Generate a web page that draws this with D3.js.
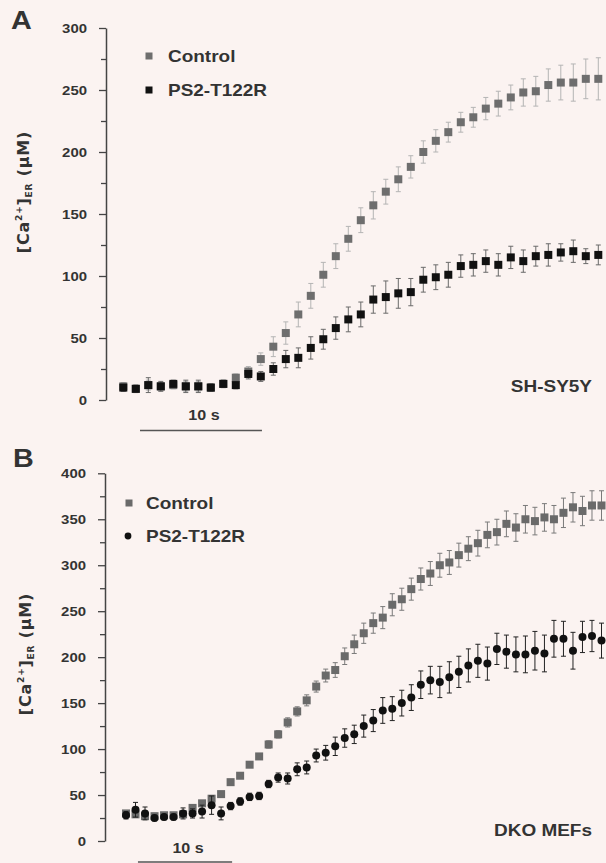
<!DOCTYPE html>
<html>
<head>
<meta charset="utf-8">
<script src="https://cdn.jsdelivr.net/npm/d3@7"></script>
<style>
    body { margin: 0; background: #fbf3f1; }
    svg { display: block; }
    text { font-family: "Liberation Sans", Arial, sans-serif; font-weight: bold; fill: #333; }
</style>
</head>
<body>
<div id="chart"></div>
<script>
/*
 * ER calcium refilling traces, control vs PS2-T122R, two cell models (mean +/- SEM).
 */

// Panel A - SH-SY5Y
var ctrlA    = [11, 9, 12, 11, 12, 11, 11, 10, 13, 18, 23, 33, 43, 54, 69, 84, 101, 116, 130, 145,
                157, 168, 178, 188, 200, 209, 216, 224, 228, 235, 239, 244, 248, 249, 254, 256, 256, 259, 259];
var ctrlAErr = [3, 3, 4, 3, 3, 4, 4, 3, 3, 3, 4, 5, 8, 9, 10, 10, 10, 10, 10, 10,
                11, 10, 10, 9, 9, 9, 8, 8, 8, 9, 10, 10, 11, 12, 13, 14, 15, 16, 17];
var ps2A     = [10, 9, 12, 11, 13, 11, 11, 10, 13, 12, 21, 19, 25, 33, 34, 42, 49, 58, 65, 69,
                81, 83, 86, 87, 97, 99, 101, 108, 109, 112, 109, 115, 112, 116, 117, 119, 120, 116, 117];
var ps2AErr  = [3, 3, 6, 4, 3, 5, 5, 3, 3, 3, 4, 4, 5, 7, 8, 9, 8, 9, 10, 10,
                11, 13, 12, 11, 10, 10, 10, 9, 9, 9, 9, 9, 9, 8, 9, 7, 9, 6, 8];
var ticksA = [0, 50, 100, 150, 200, 250, 300];
var minorA = [25, 75, 125, 175, 225, 275];

// Panel B - DKO MEFs
var ctrlB    = [30, 29, 27, 27, 28, 28, 29, 36, 41, 46, 51, 64, 71, 83, 92, 105, 116, 129, 141, 153,
                168, 180, 186, 201, 214, 226, 237, 243, 257, 263, 274, 285, 291, 300, 303, 311, 318, 324, 333, 336,
                345, 341, 350, 348, 352, 350, 357, 363, 359, 365, 365];
var ctrlBErr = [3, 3, 3, 3, 3, 3, 3, 3, 3, 3, 3, 3, 3, 3, 3, 4, 4, 5, 5, 6,
                6, 7, 8, 9, 10, 11, 11, 12, 12, 12, 12, 12, 13, 13, 13, 13, 13, 14, 14, 14,
                14, 15, 15, 15, 15, 15, 16, 16, 16, 16, 16];
var ps2B     = [28, 34, 30, 25, 26, 26, 30, 30, 32, 39, 30, 38, 43, 48, 49, 62, 69, 68, 78, 80,
                93, 96, 103, 112, 116, 125, 131, 142, 144, 150, 156, 170, 175, 173, 178, 184, 191, 196, 193, 209,
                206, 203, 203, 207, 204, 220, 220, 207, 222, 223, 218];
var ps2BErr  = [4, 8, 7, 3, 3, 3, 6, 5, 7, 10, 7, 4, 4, 4, 4, 4, 5, 6, 7, 7,
                7, 8, 10, 10, 10, 12, 12, 14, 13, 14, 14, 15, 15, 17, 17, 17, 18, 18, 18, 17,
                18, 19, 20, 21, 20, 20, 19, 20, 17, 17, 19];
var ticksB = [0, 50, 100, 150, 200, 250, 300, 350, 400];
var minorB = [25, 75, 125, 175, 225, 275, 325, 375];

var seriesNames = ["Control", "PS2-T122R"];

var width = 606, height = 863;
var STRETCH = 1.15;   // the figure text is a little wider than plain Arial

var svg = d3.select("#chart")
    .append("svg")
    .attr("width", width)
    .attr("height", height);

svg.append("rect")
    .attr("width", width)
    .attr("height", height)
    .attr("fill", "#fbf3f1");

drawPanel({
    letter: "A", letterX: 11, letterY: 29,
    ctrl: ctrlA, ctrlErr: ctrlAErr, ps2: ps2A, ps2Err: ps2AErr,
    ticks: ticksA, minor: minorA, yMax: 300,
    axisX: 106, yTop: 28, yBottom: 400,
    dt: 1.025, x0: 123.3, x1: 598.3,
    ctrlColor: "#6e6e6e", ctrlBar: "#b4b4b4", ps2Color: "#111", ps2Bar: "#6a6a6a",
    ps2Shape: "square",
    labelX: 28.5, labelY: 192,
    legendX: 149, legendY: [56, 90], legendTextX: 168,
    cell: "SH-SY5Y", cellX: 592, cellY: 392,
    barStart: 1.37, barY: 430.5, barTextY: 420
});

drawPanel({
    letter: "B", letterX: 13, letterY: 467,
    ctrl: ctrlB, ctrlErr: ctrlBErr, ps2: ps2B, ps2Err: ps2BErr,
    ticks: ticksB, minor: minorB, yMax: 400,
    axisX: 105, yTop: 473.3, yBottom: 841,
    dt: 1.01, x0: 126, x1: 601.5,
    ctrlColor: "#6a6a6a", ctrlBar: "#7a7a7a", ps2Color: "#111", ps2Bar: "#222",
    ps2Shape: "circle",
    labelX: 31, labelY: 654,
    legendX: 129, legendY: [503, 536], legendTextX: 146,
    cell: "DKO MEFs", cellX: 592, cellY: 836,
    barStart: 1.27, barY: 862, barTextY: 853
});

// Widen text horizontally around its anchor point
function stretchText(sel) {
    sel.each(function () {
        var t = d3.select(this);
        var tx = +t.attr("x") || 0, ty = +t.attr("y") || 0;
        t.attr("x", 0).attr("y", 0)
            .attr("transform", "translate(" + tx + "," + ty + ") scale(" + STRETCH + ",1)");
    });
}

function drawPanel(p) {
    var g = svg.append("g");
    var n = p.ctrl.length;

    var x = d3.scaleLinear()
        .domain([0, (n - 1) * p.dt])
        .range([p.x0, p.x1]);

    var y = d3.scaleLinear()
        .domain([0, p.yMax])
        .range([p.yBottom, p.yTop]);

    // Y axis, minor ticks first then labelled ticks
    g.append("g")
        .attr("transform", "translate(" + p.axisX + ",0)")
        .attr("color", "#444")
        .call(d3.axisLeft(y).tickValues(p.minor).tickSize(5).tickFormat(""))
        .call(function (s) { s.select(".domain").remove(); })
        .selectAll("line").attr("stroke-width", 1.3);

    var yAxis = g.append("g")
        .attr("class", "y axis")
        .attr("transform", "translate(" + p.axisX + ",0)")
        .attr("color", "#444")
        .call(d3.axisLeft(y).tickValues(p.ticks).tickSize(7).tickSizeOuter(0).tickPadding(12));
    yAxis.attr("font-family", null).attr("font-size", null);
    yAxis.select(".domain").attr("stroke-width", 1.5);
    yAxis.selectAll("line").attr("stroke-width", 1.3);
    yAxis.selectAll("text")
        .attr("fill", "#333")
        .attr("font-size", "13px")
        .call(stretchText);

    // Y label
    var lab = g.append("text")
        .attr("transform", "translate(" + p.labelX + "," + p.labelY + ") rotate(-90)")
        .attr("text-anchor", "middle")
        .style("font-family", "'DejaVu Sans', sans-serif")
        .style("letter-spacing", "0.8px")
        .attr("font-size", "16px");
    lab.append("tspan").text("[Ca");
    lab.append("tspan").attr("font-size", "9px").attr("dy", -7).text("2+");
    lab.append("tspan").attr("dy", 7).text("]");
    lab.append("tspan").attr("font-size", "9px").attr("dy", 3).text("ER");
    lab.append("tspan").attr("dy", -3).text(" (\u03BCM)");

    // Panel letter
    g.append("text")
        .attr("x", p.letterX)
        .attr("y", p.letterY)
        .attr("font-size", "25px")
        .text(p.letter)
        .call(stretchText);

    var idx = d3.range(n);

    drawErrors(g, idx, p.ctrl, p.ctrlErr, x, y, p.dt, p.ctrlBar);
    g.append("g").selectAll("rect")
        .data(idx)
        .enter()
        .append("rect")
        .attr("x", function (i) { return x(i * p.dt) - 4; })
        .attr("y", function (i) { return y(p.ctrl[i]) - 4; })
        .attr("width", 8)
        .attr("height", 8)
        .attr("fill", p.ctrlColor);

    drawErrors(g, idx, p.ps2, p.ps2Err, x, y, p.dt, p.ps2Bar);
    if (p.ps2Shape === "circle") {
        g.append("g").selectAll("circle")
            .data(idx)
            .enter()
            .append("circle")
            .attr("cx", function (i) { return x(i * p.dt); })
            .attr("cy", function (i) { return y(p.ps2[i]); })
            .attr("r", 4)
            .attr("fill", p.ps2Color);
    } else {
        g.append("g").selectAll("rect")
            .data(idx)
            .enter()
            .append("rect")
            .attr("x", function (i) { return x(i * p.dt) - 4; })
            .attr("y", function (i) { return y(p.ps2[i]) - 4; })
            .attr("width", 8)
            .attr("height", 8)
            .attr("fill", p.ps2Color);
    }

    // Legend
    g.append("rect")
        .attr("x", p.legendX - 3.5).attr("y", p.legendY[0] - 3.5)
        .attr("width", 7).attr("height", 7)
        .attr("fill", p.ctrlColor);
    if (p.ps2Shape === "circle") {
        g.append("circle")
            .attr("cx", p.legendX - 1).attr("cy", p.legendY[1])
            .attr("r", 3.4)
            .attr("fill", p.ps2Color);
    } else {
        g.append("rect")
            .attr("x", p.legendX - 3.5).attr("y", p.legendY[1] - 3.5)
            .attr("width", 7).attr("height", 7)
            .attr("fill", p.ps2Color);
    }
    seriesNames.forEach(function (name, k) {
        g.append("text")
            .attr("x", p.legendTextX)
            .attr("y", p.legendY[k] + 6)
            .attr("font-size", "16.5px")
            .text(name)
            .call(stretchText);
    });

    // Cell type
    g.append("text")
        .attr("x", p.cellX)
        .attr("y", p.cellY)
        .attr("text-anchor", "end")
        .attr("font-size", "16.5px")
        .text(p.cell)
        .call(stretchText);

    // 10 s scale bar
    g.append("line")
        .attr("x1", x(p.barStart))
        .attr("x2", x(p.barStart + 10))
        .attr("y1", p.barY)
        .attr("y2", p.barY)
        .attr("stroke", "#555")
        .attr("stroke-width", 1.5);
    g.append("text")
        .attr("x", x(p.barStart + 5) + 3)
        .attr("y", p.barTextY)
        .attr("text-anchor", "middle")
        .attr("font-size", "14px")
        .text("10 s")
        .call(stretchText);
}

function drawErrors(g, idx, vals, errs, x, y, dt, color) {
    var eg = g.append("g")
        .attr("stroke", color)
        .attr("stroke-width", 1);
    eg.selectAll(".bar")
        .data(idx)
        .enter()
        .append("path")
        .attr("class", "bar")
        .attr("fill", "none")
        .attr("d", function (i) {
            var cx = x(i * dt), top = y(vals[i] + errs[i]), bot = y(vals[i] - errs[i]);
            return "M" + cx + "," + top + "V" + bot +
                "M" + (cx - 2.5) + "," + top + "H" + (cx + 2.5) +
                "M" + (cx - 2.5) + "," + bot + "H" + (cx + 2.5);
        });
}
</script>
</body>
</html>
